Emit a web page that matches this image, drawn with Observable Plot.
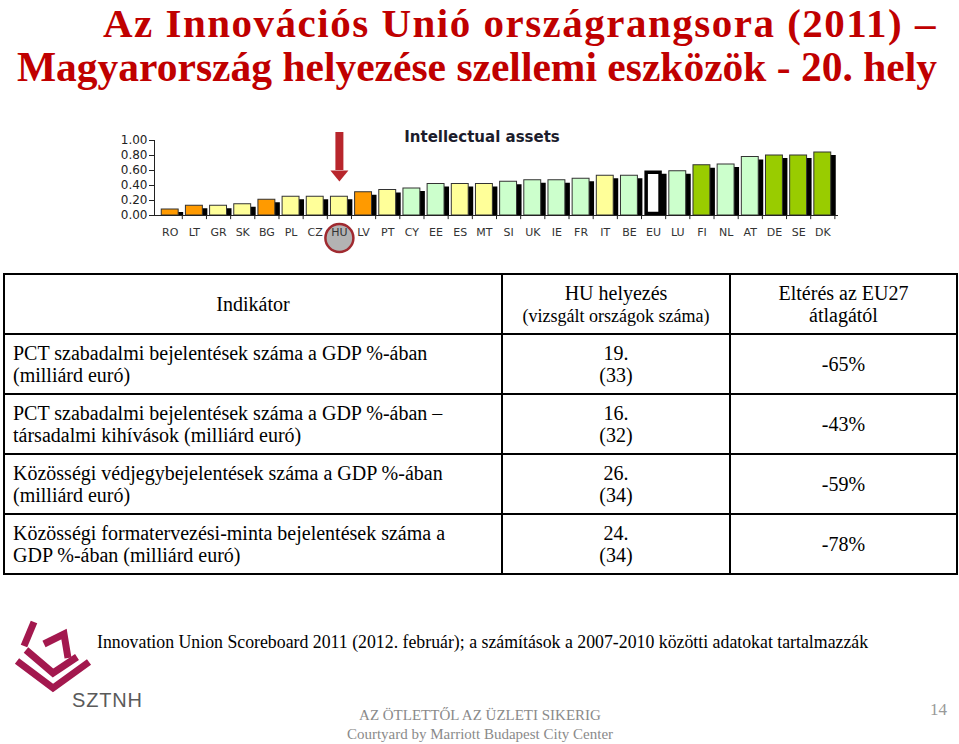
<!DOCTYPE html>
<html><head><meta charset="utf-8">
<script src="https://cdn.jsdelivr.net/npm/d3@7"></script>
<script src="https://cdn.jsdelivr.net/npm/@observablehq/plot@0.6"></script>
<style>
html,body{margin:0;padding:0;background:#fff}
body{width:959px;height:744px;overflow:hidden;position:relative;font-family:"Liberation Serif","Times New Roman",serif;color:#000}
.title{position:absolute;right:22px;color:#C00000;font-weight:bold;font-size:41px;line-height:46px;text-align:right;white-space:nowrap}
.t1{top:0px;letter-spacing:1.5px}
.t2{top:44px;font-size:41.5px}
#chart{position:absolute;left:0;top:120px}
.ctitle{position:absolute;left:482px;top:128px;transform:translateX(-50%);font-family:"DejaVu Sans",sans-serif;font-weight:bold;font-size:15px;color:#1c1c2c;white-space:nowrap}
table.tbl{position:absolute;left:3px;top:273px;border-collapse:collapse;font-size:20px;line-height:22px}
table.tbl td{border:2px solid #000;padding:0 8px;height:58px;vertical-align:middle}
table.tbl td.c1{width:480px;text-align:left}
table.tbl td.c2{width:210px;text-align:center}
table.tbl td.c3{width:209px;text-align:center}
table.tbl td.h1{text-align:center}
.sub{font-size:18px}
.caption{position:absolute;left:97px;top:632px;font-size:17.8px;white-space:nowrap}
.foot{position:absolute;left:480px;top:706px;transform:translateX(-50%);text-align:center;color:#8a8a8a;font-size:15px;line-height:19px;white-space:nowrap}
.page{position:absolute;left:930px;top:700px;color:#999;font-size:17px}
.logo{position:absolute;left:0;top:600px}
</style>
</head><body>
<div class="title t1">Az Innovációs Unió országrangsora (2011) –</div>
<div class="title t2">Magyarország helyezése szellemi eszközök - 20. hely</div>
<div id="chart"></div>
<div class="ctitle" id="ctitle"></div>
<table class="tbl" id="tbl"></table>
<svg class="logo" width="160" height="120" viewBox="0 0 160 120">
  <g fill="none" stroke="#A3184E" stroke-width="7" stroke-linejoin="miter" stroke-linecap="butt">
    <path d="M34,22 L24,46"/>
    <path d="M17,61 L53,88 L89,62"/>
    <path d="M26,50 L53,73 L77,57"/>
    <path d="M44,44 L64,34 L68,58"/>
  </g>
  <text x="72" y="107" font-family="Liberation Sans, Arial, sans-serif" font-size="20" fill="#5a5a5a" letter-spacing="0.8">SZTNH</text>
</svg>
<div class="caption" id="caption"></div>
<div class="foot">AZ ÖTLETTŐL AZ ÜZLETI SIKERIG<br>Courtyard by Marriott Budapest City Center</div>
<div class="page">14</div>
<script>
// ---- chart data ----
const chartTitle = "Intellectual assets";
const countries = ["RO","LT","GR","SK","BG","PL","CZ","HU","LV","PT","CY","EE","ES","MT","SI","UK","IE","FR","IT","BE","EU","LU","FI","NL","AT","DE","SE","DK"];
const values = [0.08,0.13,0.13,0.15,0.21,0.25,0.25,0.25,0.31,0.34,0.36,0.42,0.42,0.42,0.45,0.47,0.47,0.49,0.53,0.53,0.59,0.59,0.67,0.68,0.78,0.80,0.80,0.84];
const groups = ["Modest","Modest","Moderate","Moderate","Modest","Moderate","Moderate","Moderate","Modest","Moderate","Follower","Follower","Moderate","Moderate","Follower","Follower","Follower","Follower","Moderate","Follower","EU","Follower","Leader","Follower","Follower","Leader","Leader","Leader"];
const groupNames = ["Modest","Moderate","Follower","Leader","EU"];
const groupColors = ["#FF9A00","#FFFF99","#CCFFCC","#99CC00","#FFFFFF"];
const yTicks = [0, 0.2, 0.4, 0.6, 0.8, 1.0];
// annotation (highlighted country)
const highlight = "HU";
const arrowTop = 1.107, arrowBase = 0.60;
const circleY = -0.30;
const tickBelow = -0.055;

// ---- table data ----
const indicators = [
  "PCT szabadalmi bejelentések száma a GDP %-ában<br>(milliárd euró)",
  "PCT szabadalmi bejelentések száma a GDP %-ában –<br>társadalmi kihívások (milliárd euró)",
  "Közösségi védjegybejelentések száma a GDP %-ában<br>(milliárd euró)",
  "Közösségi formatervezési-minta bejelentések száma a<br>GDP %-ában (milliárd euró)"
];
const ranks = ["19.","16.","26.","24."];
const counts = ["(33)","(32)","(34)","(34)"];
const deviations = ["-65%","-43%","-59%","-78%"];
const headers = ["Indikátor", "HU helyezés", "(vizsgált országok száma)", "Eltérés az EU27<br>átlagától"];
const captionText = "Innovation Union Scoreboard 2011 (2012. február); a számítások a 2007-2010 közötti adatokat tartalmazzák";

document.getElementById("ctitle").textContent = chartTitle;
document.getElementById("caption").textContent = captionText;

const tbl = document.getElementById("tbl");
let html = `<tr><td class="c1 h1">${headers[0]}</td><td class="c2">${headers[1]}<br><span class="sub">${headers[2]}</span></td><td class="c3">${headers[3]}</td></tr>`;
indicators.forEach((ind, i) => {
  html += `<tr><td class="c1">${ind}</td><td class="c2">${ranks[i]}<br>${counts[i]}</td><td class="c3">${deviations[i]}</td></tr>`;
});
tbl.innerHTML = html;

const data = countries.map((c, i) => ({country: c, value: values[i], group: groups[i]}));
const pad = 0.3, mL = 154, mR = 121, W = 959;
const step = (W - mL - mR) / (countries.length - pad + 2 * pad);

const chart = Plot.plot({
  width: W, height: 130,
  marginLeft: mL, marginRight: mR, marginTop: 20, marginBottom: 35,
  style: {background: "transparent", overflow: "visible", fontFamily: "DejaVu Sans, sans-serif"},
  x: {domain: countries, padding: pad, round: false, label: null},
  y: {domain: [0, 1], label: null},
  color: {domain: groupNames, range: groupColors},
  marks: [
    Plot.barY(data, {x: "country", y: "value", fill: "#000", dx: 5, insetTop: 3}),
    Plot.barY(data.filter(d => d.group !== "EU"), {x: "country", y: "value", fill: "group", stroke: "#333", strokeWidth: 1}),
    Plot.barY(data.filter(d => d.group === "EU"), {x: "country", y: "value", fill: "group", stroke: "#000", strokeWidth: 3.5, inset: 1.5}),
    Plot.ruleY([0], {stroke: "#222"}),
    Plot.frame({anchor: "left", stroke: "#222"}),
    Plot.ruleX(countries, {x: d => d, dx: step / 2, y1: 0, y2: tickBelow, stroke: "#222"}),
    Plot.axisY({ticks: yTicks, tickFormat: d3.format(".2f"), tickSize: 5, tickPadding: 2, fontSize: 12, color: "#222", label: null}),
    Plot.ruleX([highlight], {x: d => d, y1: arrowTop, y2: arrowBase, stroke: "#B8262C", strokeWidth: 8}),
    Plot.vector([highlight], {x: d => d, y: arrowBase, length: 11, r: 9, rotate: 180, anchor: "start", shape: "spike", fill: "#B8262C", stroke: "#B8262C", strokeWidth: 0}),
    Plot.dot([highlight], {x: d => d, y: circleY, r: 14, fill: "#B3B3B3", stroke: "#A02A30", strokeWidth: 2.5}),
    Plot.axisX({tickSize: 0, tickPadding: 13, fontSize: 11, color: "#333", label: null})
  ]
});
document.getElementById("chart").appendChild(chart);
</script>
</body></html>
